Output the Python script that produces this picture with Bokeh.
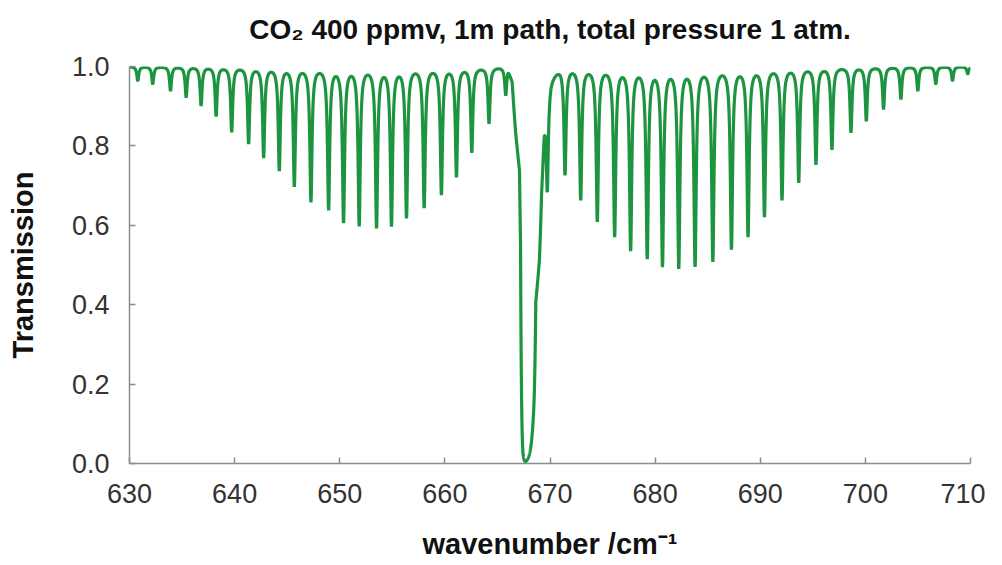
import numpy as np
from bokeh.plotting import figure
from bokeh.models import FixedTicker, Range1d, LinearAxis
from bokeh.embed import file_html
from bokeh.resources import INLINE

# ---------------- data ----------------
title_text = "CO\u2082 400 ppmv, 1m path, total pressure 1 atm."
x_label = "wavenumber /cm\u207b\u00b9"
y_label = "Transmission"

x_ticks = [630, 640, 650, 660, 670, 680, 690, 700, 710]
x_tick_labels = ["630", "640", "650", "660", "670", "680", "690", "700", "710"]
y_ticks = [0.0, 0.2, 0.4, 0.6, 0.8, 1.0]
y_tick_labels = ["0.0", "0.2", "0.4", "0.6", "0.8", "1.0"]

# P-branch line centres (cm-1) and the transmission at each line minimum
p_centers = [630.79, 632.21, 633.90, 635.39, 636.81, 638.24, 639.72, 641.33,
             642.76, 644.25, 645.68, 647.26, 648.94, 650.36, 651.85, 653.50,
             654.92, 656.35, 658.03, 659.67, 661.10, 662.56, 664.20, 665.79]
p_min_T = [0.965, 0.957, 0.940, 0.924, 0.903, 0.877, 0.837, 0.808,
           0.773, 0.741, 0.701, 0.662, 0.642, 0.610, 0.602, 0.597,
           0.602, 0.622, 0.647, 0.680, 0.725, 0.786, 0.859, 0.930]

# R-branch line centres (cm-1) and the transmission at each line minimum
r_centers = [669.74, 671.43, 672.92, 674.50, 676.15, 677.67, 679.25, 680.70,
             682.25, 683.80, 685.49, 687.26, 688.84, 690.40, 692.07, 693.66,
             695.30, 696.82, 698.63, 700.09, 701.73, 703.38, 704.99, 706.70,
             708.29, 709.74]
r_min_T = [0.720, 0.730, 0.667, 0.613, 0.575, 0.540, 0.520, 0.500,
           0.495, 0.500, 0.512, 0.543, 0.575, 0.625, 0.667, 0.711,
           0.756, 0.793, 0.836, 0.865, 0.894, 0.919, 0.940, 0.957,
           0.965, 0.982]

# Q-branch envelope (cm-1, transmission)
q_wn = [666.0, 666.4, 666.72, 667.1, 667.2, 667.3, 667.45, 667.65, 667.85,
        668.0, 668.5, 668.65, 669.0, 669.2, 669.45, 669.7, 670.1, 670.6, 671.0]
q_T = [1.0, 0.965, 0.84, 0.74, 0.55, 0.16, 0.02, 0.004, 0.01,
       0.02, 0.17, 0.41, 0.52, 0.69, 0.86, 0.95, 0.975, 0.99, 1.0]

line_hwhm = 0.11  # cm-1, pressure-broadened half width

# ---------------- spectrum from the line list ----------------
wn = np.linspace(630, 710, 8001)
tau = np.zeros_like(wn)
for c, t in zip(p_centers + r_centers, p_min_T + r_min_T):
    tau += -np.log(t) / (1.0 + ((wn - c) / line_hwhm) ** 2)
tau += np.interp(wn, q_wn, -np.log(np.array(q_T)), left=0.0, right=0.0)
trans = np.exp(-tau)

# ---------------- figure ----------------
FONT = "Liberation Sans"
p = figure(width=985, height=562,
           x_range=Range1d(630, 710), y_range=Range1d(0, 1.0),
           output_backend="svg", toolbar_location=None,
           min_border_left=129, min_border_right=15,
           min_border_top=66, min_border_bottom=99)

p.line(wn, trans, line_color="#1c9440", line_width=3.2)

p.xgrid.visible = False
p.ygrid.visible = False
p.outline_line_color = None
p.background_fill_color = "white"
p.border_fill_color = "white"

p.xaxis.ticker = FixedTicker(ticks=x_ticks)
p.xaxis.major_label_overrides = {t: s for t, s in zip(x_ticks, x_tick_labels)}
p.yaxis.ticker = FixedTicker(ticks=y_ticks)
p.yaxis.major_label_overrides = {t: s for t, s in zip(y_ticks, y_tick_labels)}

for ax in (p.xaxis, p.yaxis):
    ax.axis_line_color = "#8c8c8c"
    ax.axis_line_width = 1.5
    ax.major_tick_line_color = "#8c8c8c"
    ax.major_tick_line_width = 1.5
    ax.major_tick_in = 6
    ax.major_tick_out = 0
    ax.minor_tick_line_color = None
    ax.major_label_text_font = FONT
    ax.major_label_text_font_size = "27px"
    ax.major_label_text_color = "#333333"
    ax.axis_label_text_font = FONT
    ax.axis_label_text_font_size = "29px"
    ax.axis_label_text_font_style = "bold"
    ax.axis_label_text_color = "#111111"

p.xaxis.axis_label = x_label
p.yaxis.axis_label = y_label
p.xaxis.major_label_standoff = 20
p.xaxis.axis_label_standoff = 22
p.yaxis.major_label_standoff = 20
p.yaxis.axis_label_standoff = 30

# chart title carried by a bare axis above the frame
title_axis = LinearAxis(ticker=FixedTicker(ticks=[]), axis_label=title_text)
title_axis.axis_line_color = None
title_axis.major_tick_line_color = None
title_axis.minor_tick_line_color = None
title_axis.major_tick_out = 0
title_axis.major_tick_in = 0
title_axis.major_label_standoff = 0
title_axis.axis_label_standoff = 22
title_axis.axis_label_text_font = FONT
title_axis.axis_label_text_font_size = "28px"
title_axis.axis_label_text_font_style = "bold"
title_axis.axis_label_text_color = "#111111"
p.add_layout(title_axis, "above")

open("out.html", "w").write(file_html(p, INLINE))
